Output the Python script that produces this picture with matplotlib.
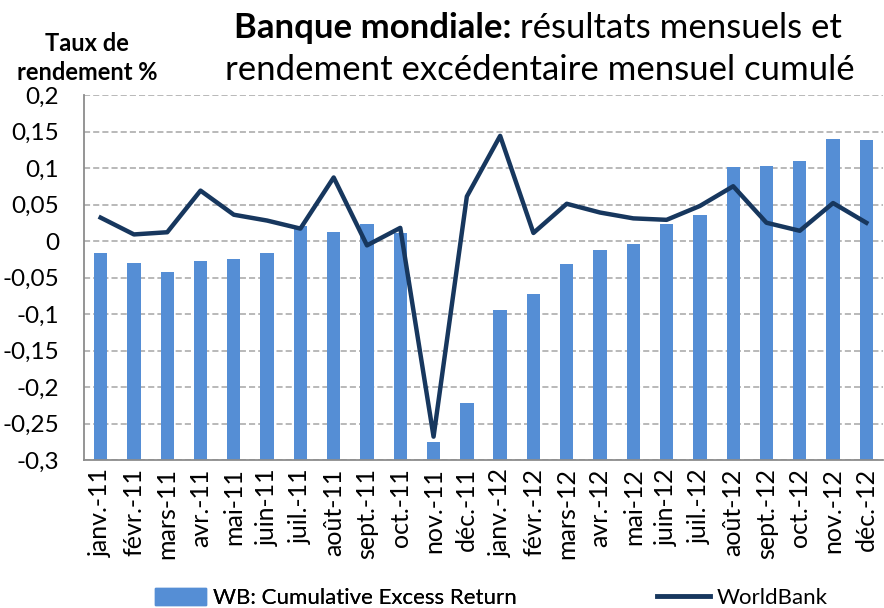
import matplotlib
matplotlib.use('Agg')
from matplotlib import pyplot as plt
from matplotlib.lines import Line2D
from matplotlib.patches import Patch
import numpy as np

# data
months = ['janv.-11', 'févr.-11', 'mars-11', 'avr.-11', 'mai-11', 'juin-11',
          'juil.-11', 'août-11', 'sept.-11', 'oct.-11', 'nov.-11', 'déc.-11',
          'janv.-12', 'févr.-12', 'mars-12', 'avr.-12', 'mai-12', 'juin-12',
          'juil.-12', 'août-12', 'sept.-12', 'oct.-12', 'nov.-12', 'déc.-12']
cumulative_excess = [-0.016, -0.030, -0.042, -0.028, -0.024, -0.017,
                     0.021, 0.013, 0.023, 0.011, -0.276, -0.222,
                     -0.094, -0.073, -0.031, -0.013, -0.004, 0.023,
                     0.035, 0.101, 0.103, 0.110, 0.140, 0.138]
worldbank = [0.032, 0.009, 0.012, 0.069, 0.036, 0.028,
             0.017, 0.087, -0.006, 0.018, -0.268, 0.061,
             0.144, 0.011, 0.051, 0.039, 0.031, 0.029,
             0.048, 0.075, 0.025, 0.014, 0.052, 0.025]
yticks = [0.2, 0.15, 0.1, 0.05, 0, -0.05, -0.1, -0.15, -0.2, -0.25, -0.3]
ytick_labels = ['0,2', '0,15', '0,1', '0,05', '0', '-0,05', '-0,1', '-0,15', '-0,2', '-0,25', '-0,3']

bar_color = '#558ED5'
line_color = '#17375E'
font = ['Lato', 'DejaVu Sans']
plt.rcParams['font.family'] = font

fig = plt.figure(figsize=(8.84, 6.08), dpi=100)
ax = fig.add_axes([84 / 884, 1 - 460 / 608, 799 / 884, 365 / 608])

x = np.arange(len(months))
base = -0.3
ax.bar(x, np.array(cumulative_excess) - base, bottom=base, width=0.4,
       color=bar_color, zorder=2)
ax.plot(x, worldbank, color=line_color, linewidth=3.2, zorder=3)

ax.set_xlim(-0.5, len(months) - 0.5)
ax.set_ylim(-0.3, 0.2)
ax.set_yticks(yticks)
ax.set_yticklabels(ytick_labels, fontsize=17.5)
ax.set_xticks(x)
ax.set_xticklabels(months, rotation=90, fontsize=18)
ax.tick_params(length=0, pad=6)
ax.tick_params(axis='y', pad=18)
ax.grid(axis='y', color='#A6A6A6', linestyle=(0, (4, 2)), linewidth=1.1, zorder=0)
ax.set_axisbelow(True)
for s in ['top', 'right']:
    ax.spines[s].set_visible(False)
for s in ['left', 'bottom']:
    ax.spines[s].set_color('#8C8C8C')
    ax.spines[s].set_linewidth(1.3)

# y axis caption
fig.text(87 / 884, 1 - 58 / 608, 'Taux de\nrendement %', ha='center', va='center',
         fontsize=17, fontweight='bold', linespacing=1.35)

# title, bold part then regular part on first line
fig.canvas.draw()
renderer = fig.canvas.get_renderer()
t1 = fig.text(0, 1 - 38 / 608, 'Banque mondiale:', fontsize=25, fontweight='bold',
              va='baseline')
t2 = fig.text(0, 1 - 38 / 608, ' résultats mensuels et', fontsize=25, va='baseline')
w1 = t1.get_window_extent(renderer).width
w2 = t2.get_window_extent(renderer).width
start = 538 - (w1 + w2) / 2
t1.set_x(start / 884)
t2.set_x((start + w1) / 884)
fig.text(540 / 884, 1 - 80 / 608, 'rendement excédentaire mensuel cumulé',
         fontsize=25, ha='center', va='baseline')

# two legend entries placed separately
leg_y = 1 - 598 / 608
leg1 = fig.legend([Patch(color=bar_color)], ['WB: Cumulative Excess Return'],
                  loc='center left', bbox_to_anchor=(155 / 884, leg_y),
                  frameon=False, fontsize=16, handlelength=2.3, handleheight=0.8,
                  handletextpad=0.3, borderpad=0, borderaxespad=0)
fig.add_artist(leg1)
fig.legend([Line2D([0], [0], color=line_color, linewidth=3.5)], ['WorldBank'],
           loc='center left', bbox_to_anchor=(657 / 884, leg_y),
           frameon=False, fontsize=16, handlelength=2.4,
           handletextpad=0.3, borderpad=0, borderaxespad=0)

fig.savefig('out.png', dpi=100)
